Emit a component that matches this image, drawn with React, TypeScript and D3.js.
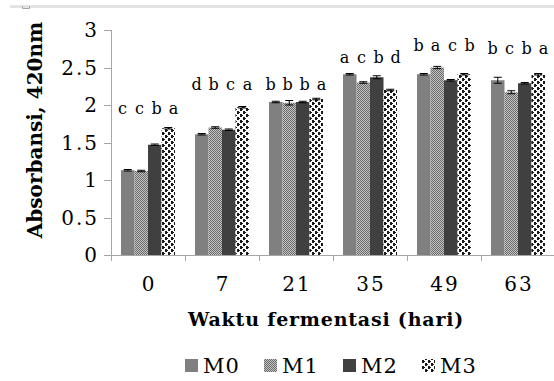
import React, { useEffect, useRef } from 'react'
import * as d3 from 'd3'

const days = ['0', '7', '21', '35', '49', '63']
const seriesNames = ['M0', 'M1', 'M2', 'M3']
const m0 = [1.13, 1.61, 2.04, 2.41, 2.41, 2.33]
const m1 = [1.12, 1.70, 2.03, 2.30, 2.50, 2.17]
const m2 = [1.47, 1.67, 2.04, 2.37, 2.33, 2.29]
const m3 = [1.69, 1.97, 2.08, 2.20, 2.41, 2.41]
const m0Err = [0.01, 0.01, 0.01, 0.01, 0.01, 0.04]
const m1Err = [0.01, 0.01, 0.03, 0.01, 0.015, 0.02]
const m2Err = [0.01, 0.01, 0.01, 0.02, 0.01, 0.01]
const m3Err = [0.01, 0.01, 0.01, 0.01, 0.01, 0.01]
const letters = [
    ['c', 'c', 'b', 'a'],
    ['d', 'b', 'c', 'a'],
    ['b', 'b', 'b', 'a'],
    ['a', 'c', 'b', 'd'],
    ['b', 'a', 'c', 'b'],
    ['b', 'c', 'b', 'a'],
]
// level (in axis units) where each group's letters sit
const letterLevel = [1.88, 2.2, 2.2, 2.56, 2.72, 2.68]
const yTicks = [0, 0.5, 1, 1.5, 2, 2.5, 3]

const W = 554
const H = 381
const FONT = '"DejaVu Serif", serif'

const App = () => {
    const svgRef = useRef<SVGSVGElement>(null)

    useEffect(() => {
        const svg = d3.select(svgRef.current)
        svg.selectAll('*').remove()

        const values = [m0, m1, m2, m3]
        const errs = [m0Err, m1Err, m2Err, m3Err]
        const fills = ['#808080', 'url(#patM1)', '#404040', 'url(#patM3)']

        // patterns
        const defs = svg.append('defs')
        const p1 = defs.append('pattern').attr('id', 'patM1')
            .attr('patternUnits', 'userSpaceOnUse').attr('width', 2).attr('height', 2)
        p1.append('rect').attr('width', 2).attr('height', 2).attr('fill', '#c4c4c4')
        p1.append('rect').attr('width', 1).attr('height', 1).attr('fill', '#6a6a6a')
        p1.append('rect').attr('x', 1).attr('y', 1).attr('width', 1).attr('height', 1).attr('fill', '#6a6a6a')

        const p3 = defs.append('pattern').attr('id', 'patM3')
            .attr('patternUnits', 'userSpaceOnUse').attr('width', 6).attr('height', 6)
        p3.append('rect').attr('width', 6).attr('height', 6).attr('fill', '#ffffff')
        p3.append('path').attr('d', 'M0,0 h2 v1 h1 v1 h-1 v1 h-2 z M3,3 h2 v1 h1 v1 h-1 v1 h-2 z')
            .attr('fill', '#1a1a1a')

        // top frame remnant
        svg.append('line').attr('x1', 10).attr('x2', 554).attr('y1', 6.5).attr('y2', 6.5)
            .attr('stroke', '#e3e3e3').attr('stroke-width', 3)
        svg.append('path').attr('d', 'M22.5,6 V8.5 H29.5 V6').attr('fill', 'none')
            .attr('stroke', '#a8a8a8').attr('stroke-width', 1)

        const x = d3.scaleBand().domain(days).range([111, 555]).paddingInner(0.27).paddingOuter(0.135)
        const xs = d3.scaleBand().domain(seriesNames).range([0, x.bandwidth()])
        const y = d3.scaleLinear().domain([0, 3]).range([255, 30])

        const axisColor = '#a6a6a6'
        // y axis
        svg.append('line').attr('x1', 111.5).attr('x2', 111.5).attr('y1', y(3)).attr('y2', y(0))
            .attr('stroke', axisColor)
        svg.selectAll('.ytick').data(yTicks).enter().append('line')
            .attr('x1', 104).attr('x2', 111.5)
            .attr('y1', d => Math.round(y(d)) + 0.5).attr('y2', d => Math.round(y(d)) + 0.5)
            .attr('stroke', axisColor)
        svg.selectAll('.ylab').data(yTicks).enter().append('text')
            .attr('x', 99).attr('y', d => y(d) + 7)
            .attr('text-anchor', 'end').attr('font-family', FONT).attr('font-size', 20)
            .attr('letter-spacing', 2)
            .attr('fill', '#000').text(d => String(d))

        // x axis
        svg.append('line').attr('x1', 111).attr('x2', 555).attr('y1', 255.5).attr('y2', 255.5)
            .attr('stroke', axisColor)
        const bounds = days.map(d => (x(d) as number) - x.step() * x.paddingInner() / 2)
        bounds.push(555)
        svg.selectAll('.xtick').data(bounds).enter().append('line')
            .attr('x1', d => Math.round(d) + 0.5).attr('x2', d => Math.round(d) + 0.5)
            .attr('y1', 255).attr('y2', 261).attr('stroke', axisColor)
        svg.selectAll('.xlab').data(days).enter().append('text')
            .attr('x', d => (x(d) as number) + x.bandwidth() / 2 + 1).attr('y', 291)
            .attr('text-anchor', 'middle').attr('font-family', FONT).attr('font-size', 20)
            .attr('letter-spacing', 2)
            .text(d => d)

        // bars
        values.forEach((vals, si) => {
            const g = svg.append('g')
            g.selectAll('rect').data(vals).enter().append('rect')
                .attr('x', (_, i) => (x(days[i]) as number) + (xs(seriesNames[si]) as number))
                .attr('width', xs.bandwidth())
                .attr('y', d => y(d))
                .attr('height', d => y(0) - y(d))
                .attr('fill', fills[si])
            // error bars
            vals.forEach((v, i) => {
                const cx = (x(days[i]) as number) + (xs(seriesNames[si]) as number) + xs.bandwidth() / 2
                const e = errs[si][i]
                g.append('line').attr('x1', cx).attr('x2', cx).attr('y1', y(v + e)).attr('y2', y(v - e))
                    .attr('stroke', '#000').attr('stroke-width', 1)
                ;[v + e, v - e].forEach(ev => {
                    g.append('line').attr('x1', cx - 4).attr('x2', cx + 4).attr('y1', y(ev)).attr('y2', y(ev))
                        .attr('stroke', '#000').attr('stroke-width', 1)
                })
            })
        })

        // significance letters, spread a bit wider than the bars
        letters.forEach((row, i) => {
            const mid = (x(days[i]) as number) + x.bandwidth() / 2
            svg.append('g').selectAll('text').data(row).enter().append('text')
                .attr('x', (_, si) => mid + (si - 1.5) * 17)
                .attr('y', y(letterLevel[i]))
                .attr('text-anchor', 'middle').attr('font-family', FONT).attr('font-size', 16)
                .text(d => d)
        })

        // axis titles
        svg.append('text').attr('transform', `translate(42,130) rotate(-90)`)
            .attr('text-anchor', 'middle').attr('font-family', FONT).attr('font-weight', 'bold')
            .attr('font-size', 20).text('Absorbansi, 420nm')
        svg.append('text').attr('x', 326).attr('y', 326)
            .attr('text-anchor', 'middle').attr('font-family', FONT).attr('font-weight', 'bold')
            .attr('font-size', 19).attr('letter-spacing', 0.8).text('Waktu fermentasi (hari)')

        // legend
        const lg = svg.append('g').selectAll('g').data(seriesNames).enter().append('g')
            .attr('transform', (_, i) => `translate(${185 + i * 79},0)`)
        lg.append('rect').attr('x', 0).attr('y', 359).attr('width', 13).attr('height', 13)
            .attr('fill', (_, i) => fills[i])
        lg.append('text').attr('x', 18).attr('y', 373).attr('font-family', FONT).attr('font-size', 21)
            .attr('letter-spacing', 1).text(d => d)
    }, [])

    return (
        <svg ref={svgRef} width={W} height={H}
            style={{ position: 'absolute', left: 0, top: 0, background: '#fff' }} />
    )
}

export default App
